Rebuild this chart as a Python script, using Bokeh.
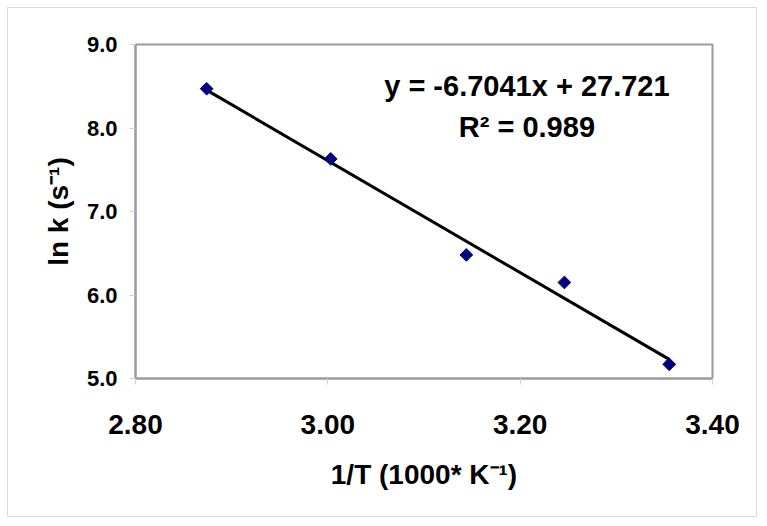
import numpy as np
from bokeh.plotting import figure
from bokeh.models import Label, FixedTicker, Range1d
from bokeh.embed import file_html
from bokeh.resources import INLINE

# data: 1/T (1000/K) and ln k (s^-1)
inv_T = [2.874, 3.003, 3.144, 3.246, 3.355]
ln_k = [8.47, 7.63, 6.48, 6.15, 5.17]
slope = -6.7041
intercept = 27.721
x_ticks = [2.80, 3.00, 3.20, 3.40]
y_ticks = [5.0, 6.0, 7.0, 8.0, 9.0]
eq_text = "y = -6.7041x + 27.721"
r2_text = "R² = 0.989"

FONT = "Liberation Sans"

p = figure(width=750, height=510, output_backend="svg", toolbar_location=None,
           x_range=Range1d(2.80, 3.40), y_range=Range1d(5.0, 9.0),
           min_border_left=127, min_border_right=46, min_border_top=36, min_border_bottom=140)
p.styles = {"border": "1px solid #d9d9d9", "margin-left": "7px", "margin-top": "7px"}
p.grid.visible = False
p.outline_line_color = "#9a9aa2"
p.outline_line_width = 2
p.background_fill_color = "white"
p.border_fill_color = "white"

for ax in (p.xaxis[0], p.yaxis[0]):
    ax.axis_line_color = "#9a9aa2"
    ax.axis_line_width = 2
    ax.major_tick_line_color = "#d0d0d0"
    ax.major_tick_in = 0
    ax.major_tick_out = 6
    ax.minor_tick_line_color = None
    ax.major_label_text_font = FONT
    ax.major_label_text_font_style = "bold"
    ax.major_label_text_color = "black"
    ax.axis_label_text_font = FONT
    ax.axis_label_text_font_style = "bold"
    ax.axis_label_text_font_size = "28px"
    ax.axis_label_text_color = "black"

p.xaxis.ticker = FixedTicker(ticks=x_ticks)
p.yaxis.ticker = FixedTicker(ticks=y_ticks)
p.xaxis.major_label_overrides = {t: f"{t:.2f}" for t in x_ticks}
p.yaxis.major_label_overrides = {t: f"{t:.1f}" for t in y_ticks}
p.xaxis.major_label_text_font_size = "28px"
p.yaxis.major_label_text_font_size = "22px"
p.xaxis.major_label_standoff = 30
p.yaxis.major_label_standoff = 12
p.xaxis.axis_label = "1/T (1000* K⁻¹)"
p.yaxis.axis_label = "ln k (s⁻¹)"
p.xaxis.axis_label_standoff = 22
p.yaxis.axis_label_standoff = 10

# trend line
xs = np.array([inv_T[0], inv_T[-1]])
p.line(xs, slope * xs + intercept, line_color="black", line_width=3)

# points
p.scatter(inv_T, ln_k, marker="square", angle=np.pi / 4, size=9,
          fill_color="#000080", line_color="#000080")

p.add_layout(Label(x=3.207, y=8.505, text=eq_text, text_font=FONT, text_font_style="bold",
                   text_font_size="29px", text_align="center", text_baseline="middle",
                   text_color="black"))
p.add_layout(Label(x=3.207, y=8.01, text=r2_text, text_font=FONT, text_font_style="bold",
                   text_font_size="29px", text_align="center", text_baseline="middle",
                   text_color="black"))

open("out.html", "w").write(file_html(p, INLINE))
